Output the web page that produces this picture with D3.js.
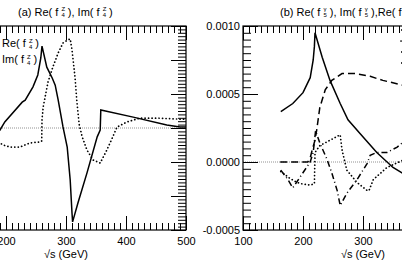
<!DOCTYPE html>
<html>
<head>
<meta charset="utf-8">
<script src="https://cdn.jsdelivr.net/npm/d3@7"></script>
<style>
  body { margin: 0; background: #fff; }
  text { font-family: "Liberation Sans", Arial, sans-serif; }
</style>
</head>
<body>
<div id="chart"></div>
<script>
// panel (a): Re(f4Z) solid, Im(f4Z) dotted
const sqrtsReF4Z = [165, 190, 198, 227, 232, 245, 253, 258, 260, 268, 277, 282, 287, 295, 302, 307, 310, 311, 320, 335, 352, 357, 358, 412, 468, 490, 500];
const reF4Z = [-0.00059, -0.00006, 0.00018, 0.00076, 0.00082, 0.00121, 0.00156, 0.00206, 0.00241, 0.00179, 0.00147, 0.00126, 0.00082, 0.00003, -0.00056, -0.00153, -0.0025, -0.00276, -0.0022, -0.00132, -0.00026, -0.00006, 0.00053, 0.00032, 0.00009, 0.00003, 0.00003];
const sqrtsImF4Z = [165, 190, 195, 207, 223, 240, 257, 259.5, 260, 262, 270, 278, 287, 295, 303, 307, 310, 315, 318, 322, 327, 335, 345, 357, 368, 378, 385, 402, 423, 452, 490, 500];
const imF4Z = [-0.00029, -0.00044, -0.0005, -0.00056, -0.00056, -0.00044, -0.00041, -0.00038, 0.00024, 0.00062, 0.00135, 0.00179, 0.00221, 0.0025, 0.00259, 0.00262, 0.0023, 0.0015, 0.0008, 0.0001, -0.00026, -0.00065, -0.00094, -0.00103, -0.00065, -0.00026, 0.00003, 0.00018, 0.00029, 0.00029, 0.00026, 0.00026];

// panel (b): Re(f5g) solid, Im(f5g) dotted, Re(f5Z) dashed, Im(f5Z) dash-dot
const sqrtsReF5A = [163, 183, 200, 212, 217, 219, 220, 232, 245, 262, 275, 295, 323, 350, 365, 400, 450, 500];
const reF5A = [0.00037, 0.00043, 0.00051, 0.00062, 0.00075, 0.00085, 0.00095, 0.00077, 0.0006, 0.00043, 0.00031, 0.00021, 0.00007, -0.00004, -0.00008, -0.00016, -0.00022, -0.00026];
const sqrtsImF5A = [163, 178, 190, 198, 212, 219, 220, 228, 245, 262, 265, 273, 290, 307, 310, 317, 340, 365, 400, 450, 500];
const imF5A = [-0.00007, -0.00012, -0.00015, -0.00016, -0.00017, -0.00016, 0.00007, 0.00012, 0.00016, 0.0002, 0.00009, -0.00006, -0.00015, -0.00021, -0.00021, -0.00013, -0.00004, 0.00001, 0.00004, 0.00006, 0.00007];
const sqrtsReF5Z = [162, 208, 212, 216, 220, 223, 228, 237, 248, 265, 287, 312, 333, 362, 400, 450, 500];
const reF5Z = [0, 0, 0.00003, 0.0001, 0.00016, 0.00024, 0.0004, 0.00053, 0.0006, 0.00065, 0.00065, 0.00063, 0.0006, 0.00057, 0.00052, 0.00047, 0.00043];
const sqrtsImF5Z = [163, 175, 183, 212, 217, 221, 228, 240, 248, 257, 262, 273, 290, 307, 312, 323, 340, 357, 365, 400, 450, 500];
const imF5Z = [-0.00006, -0.00013, -0.00019, 0, 0.00007, 0.00023, 0.00014, 0.00002, -0.00008, -0.00021, -0.00032, -0.00023, -0.00013, -0.00001, 0.00005, 0.00007, 0.00007, 0.00011, 0.00014, 0.00017, 0.00015, 0.00012];

const xTicks = [100, 200, 300, 400, 500];
const yTicksA = [-0.003, -0.002, -0.001, 0, 0.001, 0.002, 0.003];
const yTicksB = [-0.0005, 0, 0.0005, 0.001];

const width = 402, height = 261;
const styles = {
  solid: "none",
  dotted: "0.1,3.4",
  dashed: "7,4",
  dashdot: "6,3,1,3"
};

const svg = d3.select("#chart").append("svg")
    .attr("width", width)
    .attr("height", height);

const xA = d3.scaleLinear([100, 500], [-54, 186]);
const yA = d3.scaleLinear([-0.003, 0.003], [230, 26]);
const xB = d3.scaleLinear([100, 500], [243, 483]);
const yB = d3.scaleLinear([-0.0005, 0.001], [230, 26]);

// rich text with stacked super/subscript, segments: [text, kind]
function richText(t, segs) {
  let back = 0;
  segs.forEach(([s, kind]) => {
    const ts = t.append("tspan").text(s);
    if (kind == "sup") {
      ts.attr("font-size", 6).attr("dy", -4.5);
      back = ts.node().getComputedTextLength();
    } else if (kind == "sub") {
      ts.attr("font-size", 6).attr("dy", 6).attr("dx", -back);
    } else if (kind == "end") {
      ts.attr("dy", -1.5);
    }
  });
  return t;
}
const fLab = (pre, sup, sub, post) => [[pre + "( f ", "n"], [sup, "sup"], [sub, "sub"], [" )" + post, "end"]];

function drawPanel(id, x, y, yTicks, yStep, showYLabels) {
  const g = svg.append("g");
  const [x0, x1] = x.range();
  const [yb, yt] = y.range();
  const xMinor = d3.range(100, 501, 10).filter(v => v % 100 != 0);
  const yMinor = d3.range(Math.round(y.domain()[0] / yStep), Math.round(y.domain()[1] / yStep) + 1).map(i => i * yStep);
  const strip = a => a.call(s => s.select(".domain").remove())
      .attr("font-size", 11).attr("font-family", "Liberation Sans, Arial, sans-serif");

  g.append("clipPath").attr("id", id).append("rect")
      .attr("x", x0).attr("y", yt).attr("width", x1 - x0).attr("height", yb - yt);

  // zero line
  g.append("line")
      .attr("x1", x0).attr("x2", x1)
      .attr("y1", y(0)).attr("y2", y(0))
      .attr("stroke", "#777").attr("stroke-width", 0.8)
      .attr("stroke-dasharray", "1,1");

  g.append("g").attr("transform", `translate(0,${yb})`)
      .call(d3.axisBottom(x).tickValues(xTicks).tickSize(-14).tickPadding(7)).call(strip);
  g.append("g").attr("transform", `translate(0,${yb})`)
      .call(d3.axisBottom(x).tickValues(xMinor).tickSize(-7).tickFormat("")).call(strip);
  g.append("g").attr("transform", `translate(0,${yt})`)
      .call(d3.axisTop(x).tickValues(xTicks).tickSize(-14).tickFormat("")).call(strip);
  g.append("g").attr("transform", `translate(0,${yt})`)
      .call(d3.axisTop(x).tickValues(xMinor).tickSize(-7).tickFormat("")).call(strip);

  const fmt = v => d3.format(".4f")(v).replace("\u2212", "-");
  g.append("g").attr("transform", `translate(${x0},0)`)
      .call(d3.axisLeft(y).tickValues(yTicks).tickSize(-15).tickPadding(3)
        .tickFormat(showYLabels ? fmt : "")).call(strip);
  g.append("g").attr("transform", `translate(${x0},0)`)
      .call(d3.axisLeft(y).tickValues(yMinor).tickSize(-8).tickFormat("")).call(strip);
  g.append("g").attr("transform", `translate(${x1},0)`)
      .call(d3.axisRight(y).tickValues(yTicks).tickSize(-15).tickFormat("")).call(strip);
  g.append("g").attr("transform", `translate(${x1},0)`)
      .call(d3.axisRight(y).tickValues(yMinor).tickSize(-8).tickFormat("")).call(strip);

  g.append("rect")
      .attr("x", x0).attr("y", yt).attr("width", x1 - x0).attr("height", yb - yt)
      .attr("fill", "none").attr("stroke", "#000").attr("stroke-width", 1.2);

  g.append("text")
      .attr("x", (x0 + x1) / 2).attr("y", 258)
      .attr("text-anchor", "middle").attr("font-size", 11)
      .text("\u221As (GeV)");

  return g;
}

function drawCurve(g, id, x, y, xs, ys, style) {
  const line = d3.line().x(d => x(d[0])).y(d => y(d[1]));
  g.append("path")
      .attr("clip-path", `url(#${id})`)
      .attr("d", line(d3.zip(xs, ys)))
      .attr("fill", "none")
      .attr("stroke", "#000")
      .attr("stroke-width", style == "dotted" ? 1.7 : 1.5)
      .attr("stroke-linecap", style == "dotted" ? "round" : "butt")
      .attr("stroke-dasharray", styles[style]);
}

// panel (a), its y labels lie outside the window
const gA = drawPanel("clipA", xA, yA, yTicksA, 0.0001, false);
drawCurve(gA, "clipA", xA, yA, sqrtsReF4Z, reF4Z, "solid");
drawCurve(gA, "clipA", xA, yA, sqrtsImF4Z, imF4Z, "dotted");
richText(svg.append("text").attr("x", 18).attr("y", 15.5).attr("font-size", 11),
  [["(a) ", "n"]].concat(fLab("Re", "Z", "4", ","), [[" ", "n"]], fLab("Im", "Z", "4", "")));

const legA = [["Re", "solid", 47], ["Im", "dotted", 63]];
legA.forEach(([p, st, ly]) => {
  drawCurve(gA, "clipA", d3.scaleIdentity(), d3.scaleIdentity(), [xA.range()[0] + 8, xA.range()[0] + 50], [ly - 4, ly - 4], st);
  richText(gA.append("text").attr("x", xA.range()[0] + 56).attr("y", ly).attr("font-size", 11),
    fLab(p, "Z", "4", ""));
});

// panel (b)
const gB = drawPanel("clipB", xB, yB, yTicksB, 0.00005, true);
drawCurve(gB, "clipB", xB, yB, sqrtsReF5A, reF5A, "solid");
drawCurve(gB, "clipB", xB, yB, sqrtsImF5A, imF5A, "dotted");
drawCurve(gB, "clipB", xB, yB, sqrtsReF5Z, reF5Z, "dashed");
drawCurve(gB, "clipB", xB, yB, sqrtsImF5Z, imF5Z, "dashdot");
richText(svg.append("text").attr("x", 280).attr("y", 15.5).attr("font-size", 11),
  [["(b) ", "n"]].concat(fLab("Re", "\u03B3", "5", ","), [[" ", "n"]], fLab("Im", "\u03B3", "5", ","),
    fLab("Re", "Z", "5", ","), [[" ", "n"]], fLab("Im", "Z", "5", "")));

const legB = [["Re", "\u03B3", "solid", 34], ["Im", "\u03B3", "dotted", 45], ["Re", "Z", "dashed", 56], ["Im", "Z", "dashdot", 67]];
legB.forEach(([p, v, st, ly]) => {
  drawCurve(gB, "clipB", d3.scaleIdentity(), d3.scaleIdentity(), [401, 440], [ly - 4, ly - 4], st);
  richText(gB.append("text").attr("x", 446).attr("y", ly).attr("font-size", 11),
    fLab(p, v, "5", ""));
});
</script>
</body>
</html>
